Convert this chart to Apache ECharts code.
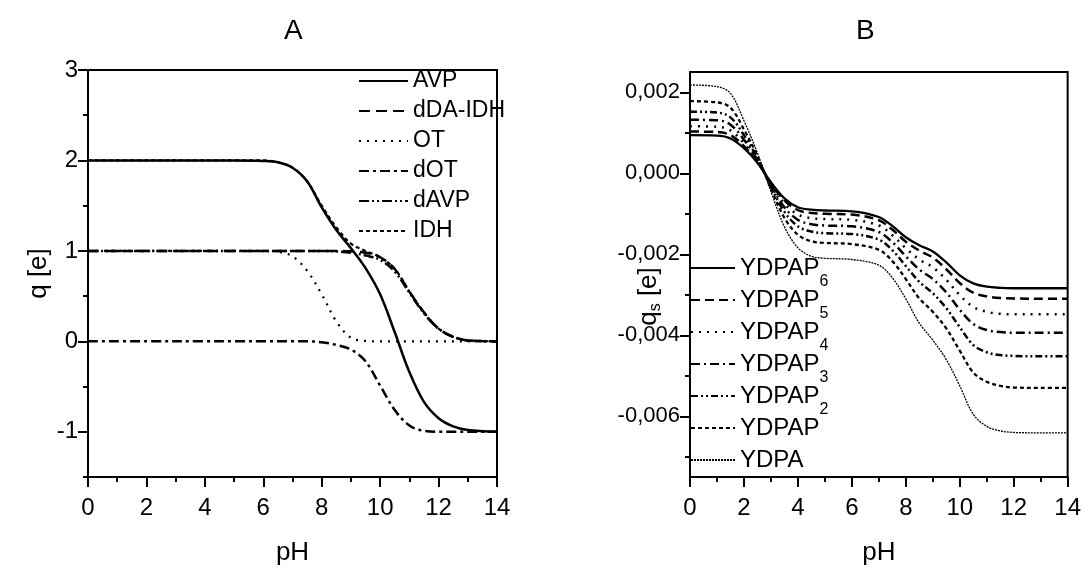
<!DOCTYPE html>
<html>
<head>
<meta charset="utf-8">
<script src="https://cdn.jsdelivr.net/npm/echarts@6/dist/echarts.min.js"></script>
<style>html,body{margin:0;padding:0;background:#fff}#c{width:1084px;height:576px}</style>
</head>
<body>
<div id="c"></div>
<script>
// ---------- Panel A data ----------
const pHA = [0, 2, 4, 5, 6, 6.5, 7, 7.5, 8, 8.5, 9, 9.5, 10, 10.5, 11, 11.5, 12, 12.5, 13, 14];
const AVP   = [2, 2, 2, 2, 1.995, 1.98, 1.92, 1.77, 1.48, 1.23, 1.03, 0.81, 0.52, 0.10, -0.34, -0.67, -0.85, -0.94, -0.98, -1];
const dDA_IDH = [1, 1, 1, 1, 1, 1, 1, 1, 1, 1, 0.995, 0.98, 0.93, 0.80, 0.55, 0.32, 0.14, 0.05, 0.01, 0];
const OT    = [1, 1, 1, 1, 1, 0.99, 0.94, 0.78, 0.52, 0.22, 0.04, 0.005, 0, 0, 0, 0, 0, 0, 0, 0];
const dOT   = [0, 0, 0, 0, 0, 0, 0, 0, -0.01, -0.04, -0.09, -0.22, -0.49, -0.76, -0.93, -0.99, -1, -1, -1, -1];
const dAVP  = [1, 1, 1, 1, 1, 1, 1, 1, 1, 0.995, 0.98, 0.95, 0.90, 0.77, 0.54, 0.31, 0.14, 0.05, 0.01, 0];
const IDH   = [2, 2, 2, 2, 2, 1.98, 1.92, 1.77, 1.50, 1.26, 1.08, 1.00, 0.93, 0.80, 0.55, 0.32, 0.14, 0.05, 0.01, 0];
const namesA = ['AVP', 'dDA-IDH', 'OT', 'dOT', 'dAVP', 'IDH'];
const yTicksA = [-1, 0, 1, 2, 3];

// ---------- Panel B data ----------
const pHB = [0, 1, 1.5, 2, 2.5, 3, 3.5, 4, 4.5, 5, 6, 7, 7.5, 8, 8.5, 9, 9.5, 10, 10.5, 11, 11.5, 12, 13, 14];
const YDPAP6 = [0.00094, 0.00093, 0.00086, 0.00062, 0.00026, -0.00022, -0.00062, -0.00084, -0.00090, -0.00092, -0.00094, -0.00108, -0.00130, -0.00158, -0.00178, -0.00193, -0.00220, -0.00252, -0.00272, -0.00280, -0.00283, -0.00284, -0.00284, -0.00284];
const YDPAP5 = [0.00103, 0.00102, 0.00094, 0.00067, 0.00028, -0.00024, -0.00067, -0.00091, -0.00098, -0.00100, -0.00102, -0.00116, -0.00139, -0.00169, -0.00191, -0.00208, -0.00237, -0.00271, -0.00295, -0.00304, -0.00308, -0.00309, -0.00310, -0.00310];
const YDPAP4 = [0.00116, 0.00115, 0.00106, 0.00074, 0.00030, -0.00026, -0.00075, -0.00102, -0.00111, -0.00113, -0.00115, -0.00129, -0.00153, -0.00185, -0.00213, -0.00232, -0.00263, -0.00301, -0.00330, -0.00342, -0.00347, -0.00348, -0.00348, -0.00348];
const YDPAP3 = [0.00132, 0.00131, 0.00120, 0.00083, 0.00033, -0.00029, -0.00084, -0.00115, -0.00126, -0.00129, -0.00131, -0.00145, -0.00170, -0.00205, -0.00238, -0.00261, -0.00294, -0.00337, -0.00372, -0.00387, -0.00392, -0.00394, -0.00394, -0.00394];
const YDPAP2 = [0.00152, 0.00150, 0.00138, 0.00094, 0.00037, -0.00033, -0.00095, -0.00131, -0.00144, -0.00148, -0.00150, -0.00164, -0.00190, -0.00229, -0.00268, -0.00296, -0.00333, -0.00380, -0.00424, -0.00442, -0.00449, -0.00451, -0.00452, -0.00452];
const YDPAP  = [0.00178, 0.00175, 0.00162, 0.00108, 0.00042, -0.00038, -0.00110, -0.00152, -0.00168, -0.00172, -0.00175, -0.00189, -0.00217, -0.00261, -0.00309, -0.00342, -0.00383, -0.00438, -0.00492, -0.00515, -0.00525, -0.00529, -0.00530, -0.00530];
const YDPA   = [0.00218, 0.00214, 0.00197, 0.00130, 0.00050, -0.00045, -0.00132, -0.00184, -0.00205, -0.00210, -0.00213, -0.00227, -0.00258, -0.00310, -0.00370, -0.00412, -0.00460, -0.00525, -0.00595, -0.00625, -0.00636, -0.00640, -0.00641, -0.00641];
const namesB = ['YDPAP6', 'YDPAP5', 'YDPAP4', 'YDPAP3', 'YDPAP2', 'YDPAP', 'YDPA'];
const yTicksB = [-0.006, -0.004, -0.002, 0, 0.002];
const yMinorB = [-0.007, -0.005, -0.003, -0.001, 0.001];

const FONT = "'Liberation Sans',Arial,sans-serif";
const BLACK = '#000';
const zip = (xs, ys) => xs.map((x, i) => [x, ys[i]]);

const chart = echarts.init(document.getElementById('c'), null, {renderer: 'canvas'});

function xAxisFor(gi) {
  return {
    type: 'value', gridIndex: gi, min: 0, max: 14, interval: 2,
    name: 'pH', nameLocation: 'middle', nameGap: 63,
    nameTextStyle: {fontSize: 26, color: BLACK, fontFamily: FONT},
    axisLine: {onZero: false, lineStyle: {color: BLACK, width: 2}},
    axisTick: {length: 10, lineStyle: {color: BLACK, width: 2}},
    minorTick: {show: true, splitNumber: 2, length: 5, lineStyle: {color: BLACK, width: 2}},
    axisLabel: {fontSize: 24, color: BLACK, margin: 19, fontFamily: FONT},
    splitLine: {show: false}, minorSplitLine: {show: false}
  };
}

function series(name, xs, ys, xi, yi, dash, width, z) {
  return {
    name, type: 'line', xAxisIndex: xi, yAxisIndex: yi,
    data: zip(xs, ys), symbol: 'none', smooth: 0.35,
    lineStyle: {color: BLACK, width: width, type: dash},
    z: z || 2, silent: true
  };
}

const fmtB = v => (Math.abs(v) < 1e-9 ? '0,000' : v.toFixed(3).replace('.', ','));

const option = {
  animation: false,
  backgroundColor: '#fff',
  textStyle: {fontFamily: FONT, color: BLACK},
  grid: [
    {left: 88, top: 70, width: 409, height: 407, show: true, borderColor: BLACK, borderWidth: 2, backgroundColor: 'transparent'},
    {left: 690, top: 72, width: 378, height: 405, show: true, borderColor: BLACK, borderWidth: 2, backgroundColor: 'transparent'}
  ],
  xAxis: [xAxisFor(0), xAxisFor(1)],
  yAxis: [
    {
      type: 'value', gridIndex: 0, position: 'left', min: -1.5, max: 3,
      name: 'q [e]', nameLocation: 'middle', nameGap: 36, nameMoveOverlap: false,
      nameTextStyle: {fontSize: 26, color: BLACK, fontFamily: FONT},
      axisLine: {onZero: false, lineStyle: {color: BLACK, width: 2}},
      axisTick: {length: 10, customValues: yTicksA, lineStyle: {color: BLACK, width: 2}},
      axisLabel: {customValues: yTicksA, fontSize: 24, color: BLACK, margin: 10, fontFamily: FONT},
      splitLine: {show: false}
    },
    {
      type: 'value', gridIndex: 0, position: 'left', offset: 0, min: -1.5, max: 3, interval: 0.5,
      axisLine: {show: false, onZero: false},
      axisTick: {length: 5, lineStyle: {color: BLACK, width: 2}},
      axisLabel: {show: false}, splitLine: {show: false}
    },
    {
      type: 'value', gridIndex: 1, position: 'left', min: -0.0075, max: 0.0025,
      name: '{q|q}{s|s}{q| [e]}', nameLocation: 'middle', nameGap: 26, nameMoveOverlap: false,
      nameTextStyle: {
        color: BLACK, fontFamily: FONT, padding: [0, 44, 0, 0],
        rich: {
          q: {fontSize: 26, fontFamily: FONT, color: BLACK, lineHeight: 30},
          s: {fontSize: 16, fontFamily: FONT, color: BLACK, lineHeight: 16, padding: [14, 0, 0, 0]}
        }
      },
      axisLine: {onZero: false, lineStyle: {color: BLACK, width: 2}},
      axisTick: {length: 10, customValues: yTicksB, lineStyle: {color: BLACK, width: 2}},
      axisLabel: {customValues: yTicksB, fontSize: 22, color: BLACK, margin: 10, fontFamily: FONT, formatter: fmtB},
      splitLine: {show: false}
    },
    {
      type: 'value', gridIndex: 1, position: 'left', offset: 0, min: -0.0075, max: 0.0025,
      axisLine: {show: false, onZero: false},
      axisTick: {length: 5, customValues: yMinorB, lineStyle: {color: BLACK, width: 2}},
      axisLabel: {show: false, customValues: yMinorB}, splitLine: {show: false}
    }
  ],
  legend: [
    {
      data: namesA, orient: 'vertical', left: 358, top: 69, padding: 0,
      itemWidth: 49, itemHeight: 14, itemGap: 6, selectedMode: false,
      itemStyle: {color: 'rgba(0,0,0,0)', borderColor: 'rgba(0,0,0,0)', borderWidth: 0},
      textStyle: {fontSize: 23, color: BLACK, fontFamily: FONT, lineHeight: 24}
    },
    {
      data: namesB, orient: 'vertical', left: 690, top: 246, padding: 0,
      itemWidth: 44, itemHeight: 14, itemGap: -12, selectedMode: false,
      itemStyle: {color: 'rgba(0,0,0,0)', borderColor: 'rgba(0,0,0,0)', borderWidth: 0},
      formatter: n => {
        const m = n.match(/^(YDPAP?)(\d?)$/);
        return '{m|' + m[1] + '}{s|' + (m[2] || ' ') + '}';
      },
      textStyle: {
        color: BLACK, fontFamily: FONT,
        rich: {
          m: {fontSize: 24, fontFamily: FONT, color: BLACK, lineHeight: 24},
          s: {fontSize: 16, fontFamily: FONT, color: BLACK, lineHeight: 14, padding: [28, 0, 0, 0]}
        }
      }
    }
  ],
  graphic: [
    {type: 'text', left: 284, top: 17, style: {text: 'A', fontSize: 28, fontFamily: FONT, fill: BLACK}},
    {type: 'text', left: 856, top: 17, style: {text: 'B', fontSize: 28, fontFamily: FONT, fill: BLACK}}
  ],
  series: [
    series('OT', pHA, OT, 0, 0, [2, 6], 2.2),
    series('dOT', pHA, dOT, 0, 0, [10, 4, 3, 4], 2.5),
    series('dAVP', pHA, dAVP, 0, 0, [10, 3, 2, 3, 2, 3], 2.5),
    series('IDH', pHA, IDH, 0, 0, [4, 3], 2.2),
    series('dDA-IDH', pHA, dDA_IDH, 0, 0, [11, 6], 2.5),
    series('AVP', pHA, AVP, 0, 0, 'solid', 2.5, 5),

    series('YDPA', pHB, YDPA, 1, 2, [2, 1], 1.3),
    series('YDPAP', pHB, YDPAP, 1, 2, [4, 3], 2.3),
    series('YDPAP2', pHB, YDPAP2, 1, 2, [7, 3, 2, 3, 2, 3], 2.5),
    series('YDPAP3', pHB, YDPAP3, 1, 2, [9, 4, 2, 4], 2.5),
    series('YDPAP4', pHB, YDPAP4, 1, 2, [2, 6], 2.5),
    series('YDPAP5', pHB, YDPAP5, 1, 2, [9, 5], 2.5),
    series('YDPAP6', pHB, YDPAP6, 1, 2, 'solid', 2.3, 5)
  ]
};
chart.setOption(option);
</script>
</body>
</html>
